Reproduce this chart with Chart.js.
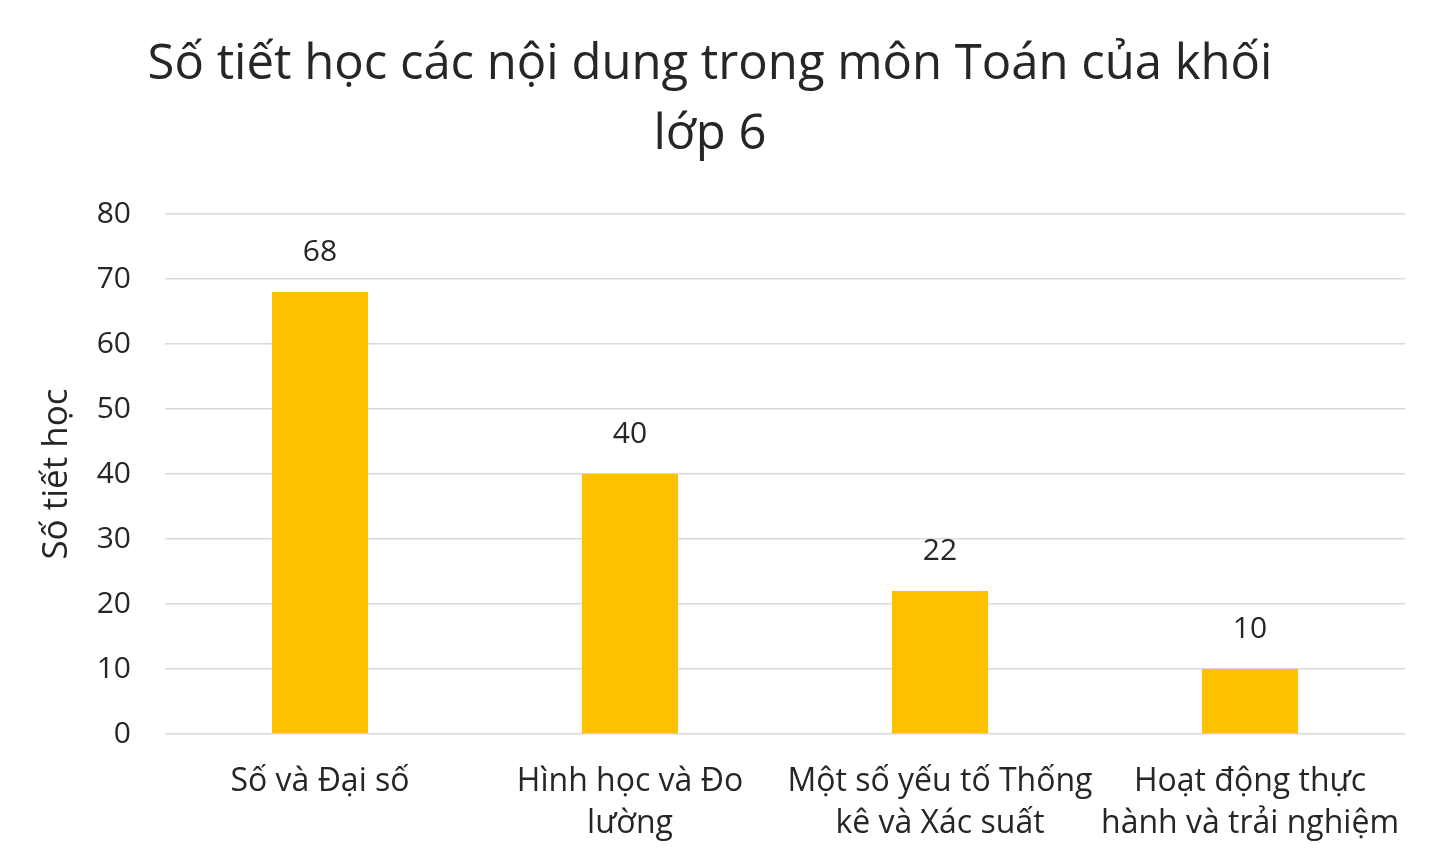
<!DOCTYPE html>
<html>
<head>
<meta charset="utf-8">
<script src="https://cdn.jsdelivr.net/npm/chart.js@4"></script>
<style>
  body { margin: 0; background: #fff; }
  #wrap { width: 1437px; height: 856px; position: relative; }
</style>
</head>
<body>
<div id="wrap"><canvas id="chart"></canvas></div>
<script>
// chart data
const categories = [
  'Số và Đại số',
  ['Hình học và Đo', 'lường'],
  ['Một số yếu tố Thống', 'kê và Xác suất'],
  ['Hoạt động thực', 'hành và trải nghiệm']
];
const lessonCounts = [68, 40, 22, 10];
const titleLines = ['Số tiết học các nội dung trong môn Toán của khối', 'lớp 6'];
const yAxisTitle = 'Số tiết học';

const FONT = "'Open Sans', 'Noto Sans', sans-serif";

// values above the bars
const valueLabels = {
  id: 'valueLabels',
  afterDatasetsDraw(chart) {
    const ctx = chart.ctx;
    const meta = chart.getDatasetMeta(0);
    ctx.save();
    ctx.font = '30px ' + FONT;
    ctx.fillStyle = '#262626';
    ctx.textAlign = 'center';
    ctx.textBaseline = 'middle';
    meta.data.forEach((bar, i) => {
      ctx.fillText(String(lessonCounts[i]), bar.x, bar.y - 40);
    });
    ctx.restore();
  }
};

new Chart(document.getElementById('chart'), {
  type: 'bar',
  data: {
    labels: categories,
    datasets: [{
      data: lessonCounts,
      backgroundColor: '#FFC000',
      barPercentage: 0.31,
      categoryPercentage: 1
    }]
  },
  options: {
    responsive: true,
    maintainAspectRatio: false,
    animation: false,
    layout: { padding: { left: 15, right: 32, top: 0, bottom: 0 } },
    plugins: {
      legend: { display: false },
      tooltip: { enabled: false },
      title: {
        display: true,
        text: titleLines,
        color: '#262626',
        font: { family: FONT, size: 49, weight: 'normal', lineHeight: '70px' },
        padding: { top: 30, bottom: 44 }
      }
    },
    scales: {
      x: {
        grid: { display: false },
        border: { display: false },
        ticks: {
          color: '#262626',
          font: { family: FONT, size: 32, lineHeight: '42px' },
          padding: 19,
          maxRotation: 0,
          autoSkip: false
        },
        afterFit(scale) { scale.height = 122; }
      },
      y: {
        min: 0,
        max: 80,
        grid: { color: '#d9d9d9', lineWidth: 1.5, drawTicks: false },
        border: { display: false },
        ticks: {
          stepSize: 10,
          color: '#262626',
          font: { family: FONT, size: 30 },
          padding: 34
        },
        title: {
          display: true,
          text: yAxisTitle,
          color: '#262626',
          font: { family: FONT, size: 35, lineHeight: '42px' },
          padding: { top: 21, bottom: 0 }
        },
        afterFit(scale) { scale.width = 150; }
      }
    }
  },
  plugins: [valueLabels]
});
</script>
</body>
</html>
